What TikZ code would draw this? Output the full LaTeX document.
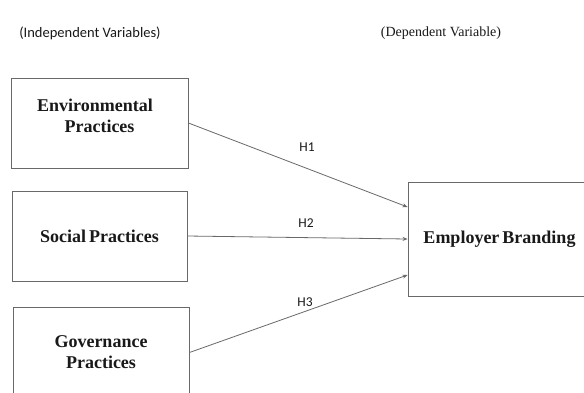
\documentclass[tikz,border=0pt]{standalone}
\usepackage{fontspec}
\setmainfont{Liberation Serif}
\newfontfamily\calibri{Carlito}
\usetikzlibrary{arrows.meta}
\definecolor{linegray}{RGB}{105,105,105}
\definecolor{textdark}{RGB}{25,25,25}
\tikzset{
  varbox/.style={draw=linegray, line width=0.9pt, rectangle, inner sep=0pt,
    align=center, text=textdark, font=\fontsize{18}{21}\selectfont\bfseries},
  hyparrow/.style={draw=linegray, line width=0.8pt, -{Stealth[length=5pt,width=4pt]}},
  hyplabel/.style={font=\calibri\fontsize{13.5}{15}\selectfont, text=textdark, inner sep=0pt},
  headlabel/.style={text=textdark, inner sep=0pt}
}
\begin{document}
\begin{tikzpicture}[x=1pt,y=-1pt]
\useasboundingbox (0,0) rectangle (584,392);
\clip (0,0) rectangle (584,392);
\fill[white] (0,0) rectangle (584,392);

\node[headlabel, font=\calibri\fontsize{14.5}{16}\selectfont] (indep) at (90,33) {(Independent Variables)};
\node[headlabel, font=\fontsize{14}{16}\selectfont] (dep) at (441,33) {(Dependent Variable)};

\node[varbox, minimum width=177pt, minimum height=90pt,
  label={[name=envl, yshift=7pt, align=center, text=textdark, font=\fontsize{18}{21}\selectfont\bfseries]center:Environmental\hspace*{9pt}\\Practices}]
  (env) at (99.5,123) {};
\node[varbox, minimum width=175pt, minimum height=90pt] (soc) at (99.5,236) {Social\,Practices};
\node[varbox, minimum width=176pt, minimum height=91pt] (gov) at (101,352.5) {Governance\\Practices};
\node[varbox, minimum width=183pt, minimum height=114pt] (eb) at (499.5,239) {Employer\,Branding};

\draw[hyparrow] (env.east) -- ([yshift=32pt]eb.west);
\draw[hyparrow] (soc.east) -- (eb.west);
\draw[hyparrow] (gov.east) -- ([yshift=-36pt]eb.west);

\node[hyplabel] (h1) at (307,147) {H1};
\node[hyplabel] (h2) at (306,223) {H2};
\node[hyplabel] (h3) at (305,302) {H3};
\end{tikzpicture}
\end{document}
